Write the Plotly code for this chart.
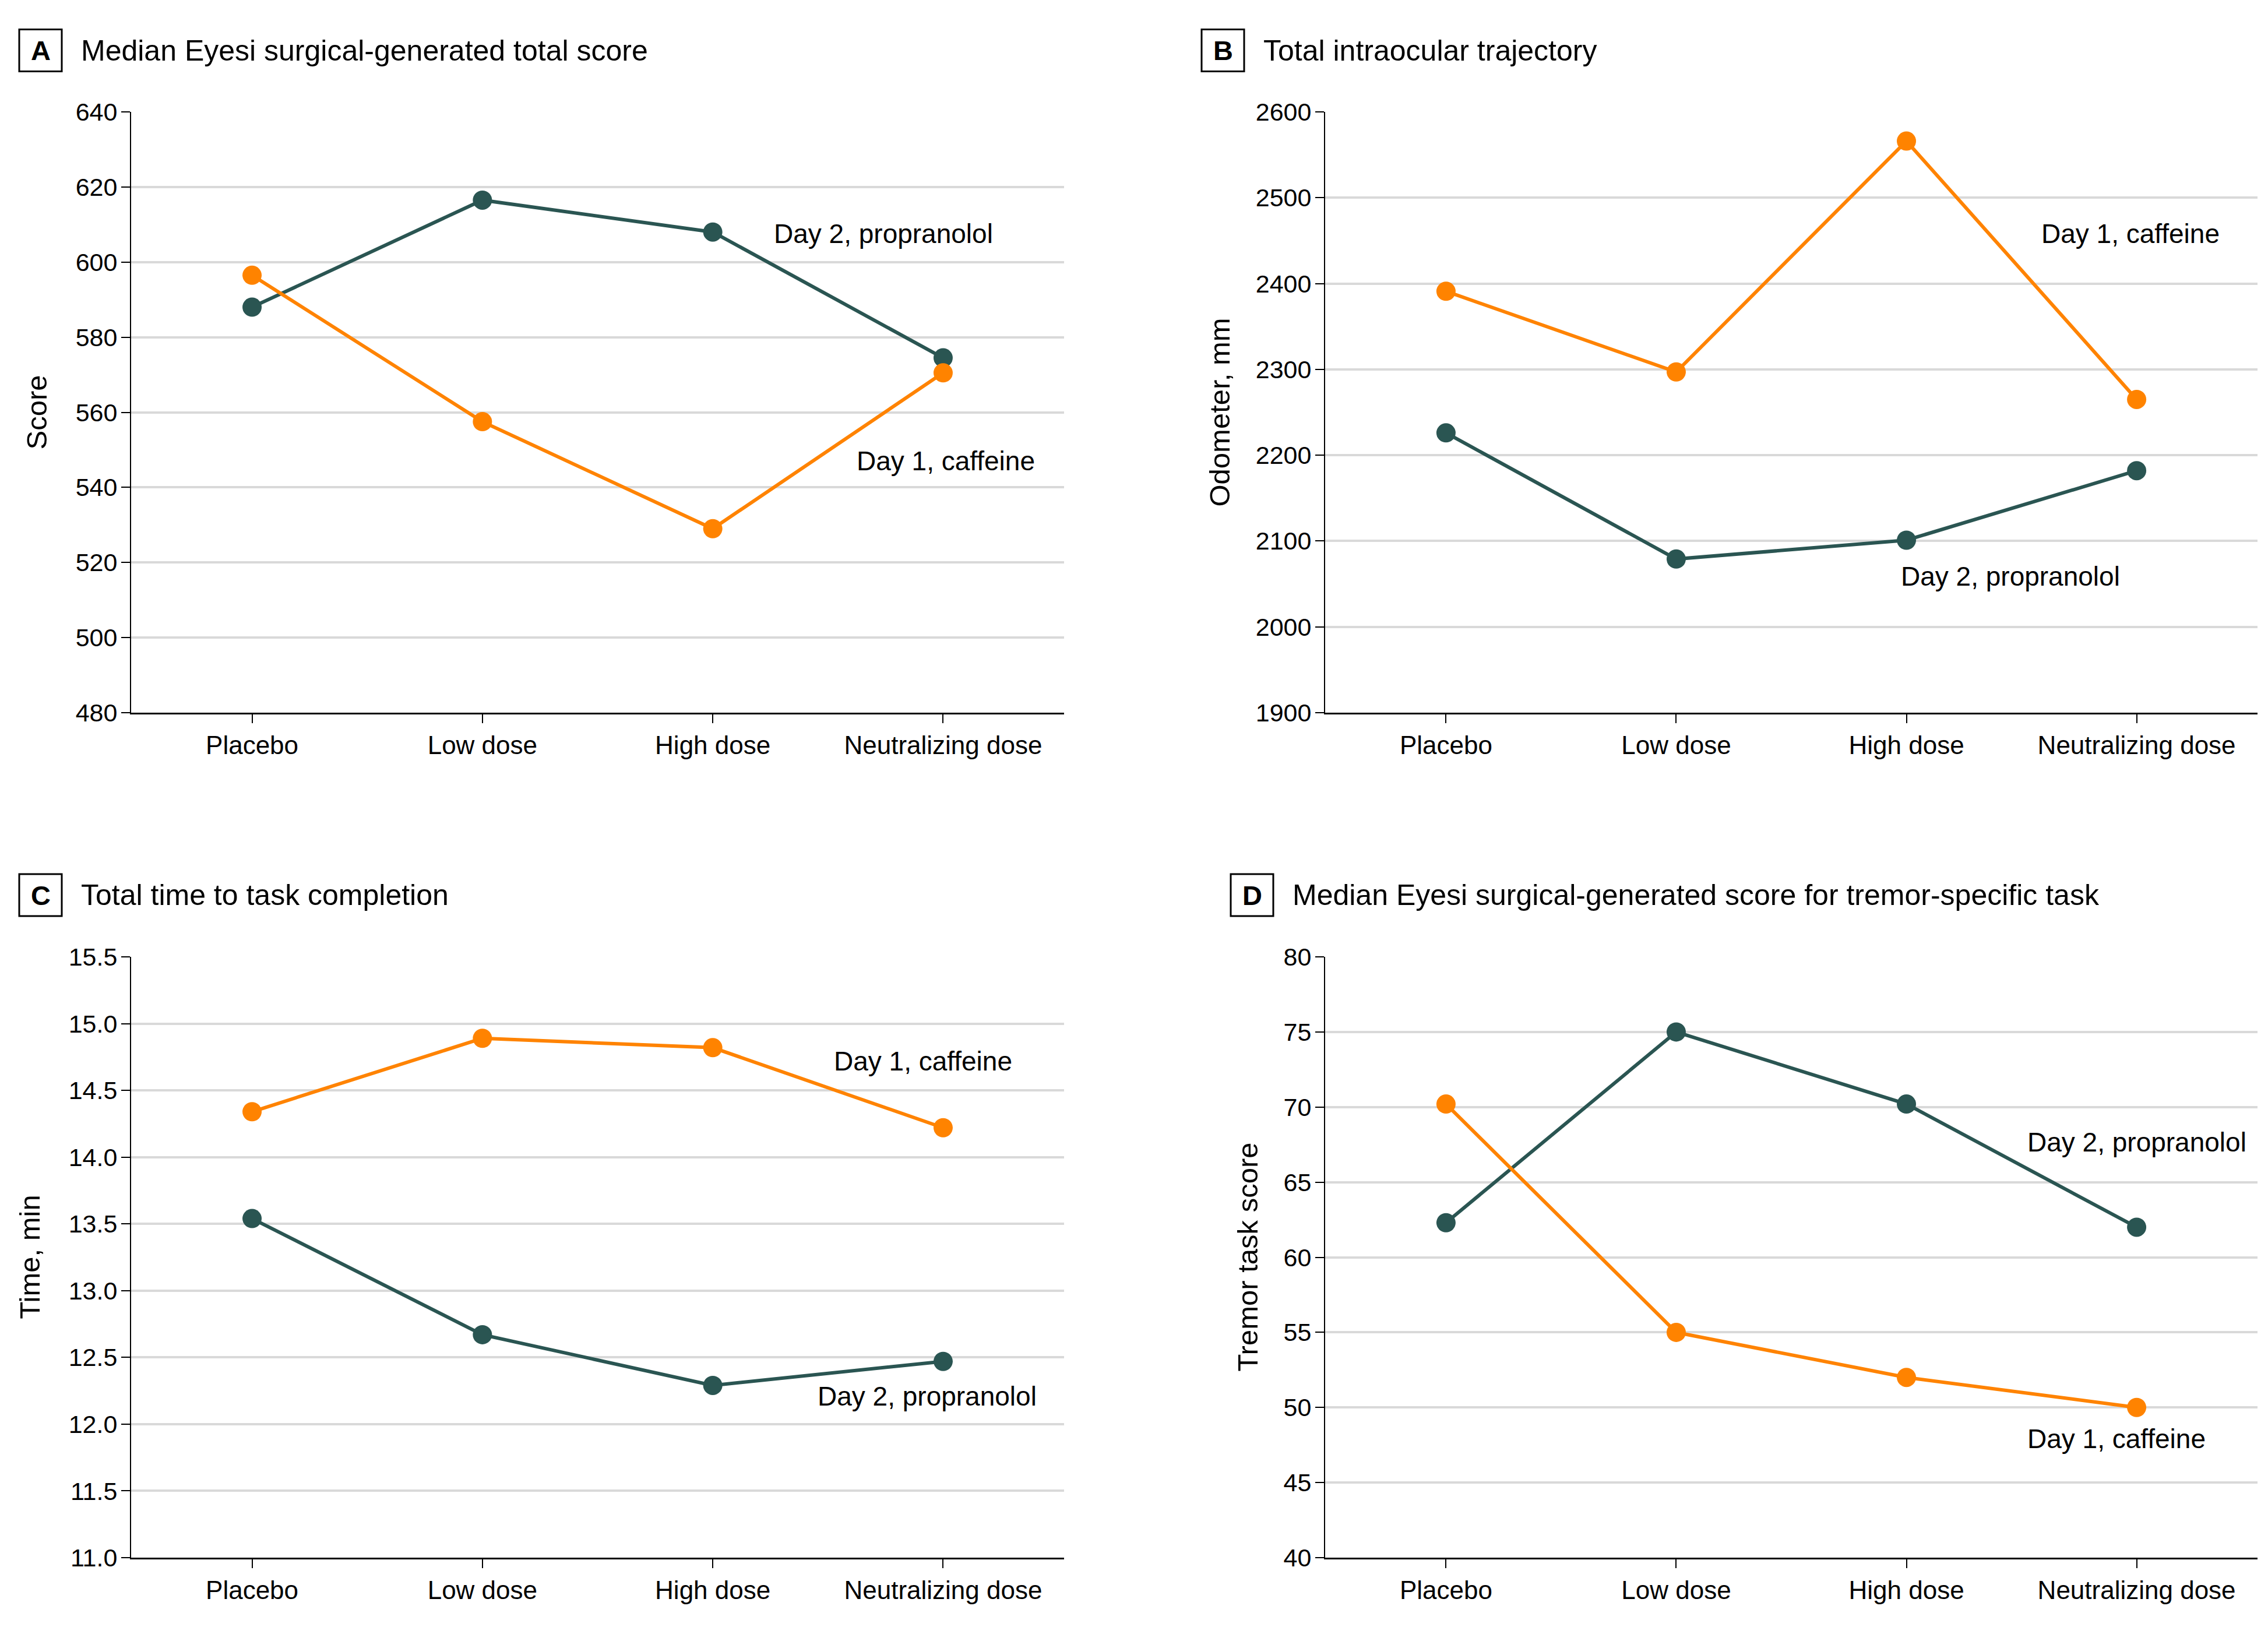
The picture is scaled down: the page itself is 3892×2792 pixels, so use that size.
import plotly.graph_objects as go

# ---------------------------------------------------------------------
# Data
# ---------------------------------------------------------------------
categories = ["Placebo", "Low dose", "High dose", "Neutralizing dose"]

a_propranolol = [588, 616.5, 608, 574.5]
a_caffeine = [596.5, 557.5, 529, 570.5]

b_propranolol = [2226, 2079, 2101, 2182]
b_caffeine = [2391, 2297, 2566, 2265]

c_propranolol = [13.54, 12.67, 12.29, 12.47]
c_caffeine = [14.34, 14.89, 14.82, 14.22]

d_propranolol = [62.3, 75.0, 70.2, 62.0]
d_caffeine = [70.2, 55.0, 52.0, 50.0]

panel_letters = ["A", "B", "C", "D"]
panel_titles = [
    "Median Eyesi surgical-generated total score",
    "Total intraocular trajectory",
    "Total time to task completion",
    "Median Eyesi surgical-generated score for tremor-specific task",
]
y_titles = ["Score", "Odometer, mm", "Time, min", "Tremor task score"]
y_ranges = [(480, 640), (1900, 2600), (11.0, 15.5), (40, 80)]
y_dticks = [20, 100, 0.5, 5]

# ---------------------------------------------------------------------
# Style
# ---------------------------------------------------------------------
W, H = 3892, 2792          # page size
OFF = 8                    # default body margin of the html page
WF, HF = W - 2 * OFF, H - 2 * OFF
TEAL = "#2a5552"
ORANGE = "#ff8300"
GRID = "#d9d9d9"
FONT = "Liberation Sans, Arial, sans-serif"


def px(x):
    return (x - OFF) / WF


def py(y):
    return 1 - (y - OFF) / HF


# plot areas in page pixels (x0, x1, y_top, y_bottom)
boxes = [
    (225, 1826, 192, 1223),
    (2274, 3874, 192, 1223),
    (225, 1826, 1642, 2673),
    (2274, 3874, 1642, 2673),
]
# letter box left edge, title centre line, y-title centre x
label_box_x = [33, 2062, 33, 2112]
title_y = [86.5, 86.5, 1536, 1536]
ytitle_x = [62, 2092, 50, 2140]

# series label positions (x index, y value)
labels_pos = [
    [(2.26, 607.6, "Day 2, propranolol"), (2.62, 547.1, "Day 1, caffeine")],
    [(2.58, 2458, "Day 1, caffeine"), (1.97, 2059, "Day 2, propranolol")],
    [(2.52, 14.72, "Day 1, caffeine"), (2.45, 12.21, "Day 2, propranolol")],
    [(2.52, 67.66, "Day 2, propranolol"), (2.52, 47.9, "Day 1, caffeine")],
]

series = [
    (a_propranolol, a_caffeine),
    (b_propranolol, b_caffeine),
    (c_propranolol, c_caffeine),
    (d_propranolol, d_caffeine),
]

fig = go.Figure()
layout = {}
annotations = []
shapes = []

for i, (prop, caf) in enumerate(series):
    n = "" if i == 0 else str(i + 1)
    x0, x1, yt, yb = boxes[i]
    layout["xaxis" + n] = dict(
        domain=[px(x0), px(x1)],
        range=[-0.525, 3.525],
        tickvals=list(range(len(categories))),
        ticktext=categories,
        showgrid=False,
        zeroline=False,
        showline=True,
        linecolor="black",
        linewidth=3,
        ticks="outside",
        ticklen=15,
        tickwidth=2,
        tickcolor="black",
        tickfont=dict(size=44, color="black", family=FONT),
        automargin=False,
        anchor="y" + n,
        fixedrange=True,
    )
    layout["yaxis" + n] = dict(
        domain=[py(yb), py(yt)],
        range=list(y_ranges[i]),
        dtick=y_dticks[i],
        tick0=y_ranges[i][0],
        showgrid=True,
        gridcolor=GRID,
        gridwidth=4,
        zeroline=False,
        showline=True,
        linecolor="black",
        linewidth=2,
        ticks="outside",
        ticklen=15,
        tickwidth=2,
        tickcolor="black",
        tickfont=dict(size=43, color="black", family=FONT),
        tickformat=".1f" if i == 2 else "d",
        ticklabelstandoff=-2,
        automargin=False,
        anchor="x" + n,
        fixedrange=True,
    )

    for vals, color in ((prop, TEAL), (caf, ORANGE)):
        fig.add_trace(
            go.Scatter(
                x=list(range(len(categories))),
                y=vals,
                mode="lines+markers",
                line=dict(color=color, width=6),
                marker=dict(color=color, size=33),
                xaxis="x" + n,
                yaxis="y" + n,
                showlegend=False,
                cliponaxis=False,
            )
        )

    # series labels
    for lx, ly, txt in labels_pos[i]:
        annotations.append(dict(
            x=lx, y=ly, xref="x" + n, yref="y" + n,
            text=txt, showarrow=False, xanchor="left", yanchor="middle",
            font=dict(size=46, color="black", family=FONT),
        ))

    # y-axis title
    annotations.append(dict(
        x=px(ytitle_x[i]), y=py((yt + yb) / 2),
        xref="paper", yref="paper",
        text=y_titles[i], textangle=-90, showarrow=False,
        xanchor="center", yanchor="middle",
        font=dict(size=49, color="black", family=FONT),
    ))

    # panel letter box + title
    bx = label_box_x[i]
    ty = title_y[i]
    shapes.append(dict(
        type="rect", xref="paper", yref="paper",
        x0=px(bx), x1=px(bx + 73),
        y0=py(ty + 36), y1=py(ty - 36),
        line=dict(color="black", width=3), fillcolor="white",
    ))
    annotations.append(dict(
        x=px(bx + 36.5), y=py(ty), xref="paper", yref="paper",
        text="<b>" + panel_letters[i] + "</b>", showarrow=False,
        xanchor="center", yanchor="middle",
        font=dict(size=47, color="black", family=FONT),
    ))
    annotations.append(dict(
        x=px(bx + 104), y=py(ty), xref="paper", yref="paper",
        text=panel_titles[i], showarrow=False,
        xanchor="left", yanchor="middle",
        font=dict(size=50, color="black", family=FONT),
    ))

fig.update_layout(
    width=WF,
    height=HF,
    margin=dict(l=0, r=0, t=0, b=0, pad=0, autoexpand=False),
    paper_bgcolor="white",
    plot_bgcolor="white",
    font=dict(family=FONT, color="black"),
    annotations=annotations,
    shapes=shapes,
    **layout,
)

fig.write_html("out.html")
